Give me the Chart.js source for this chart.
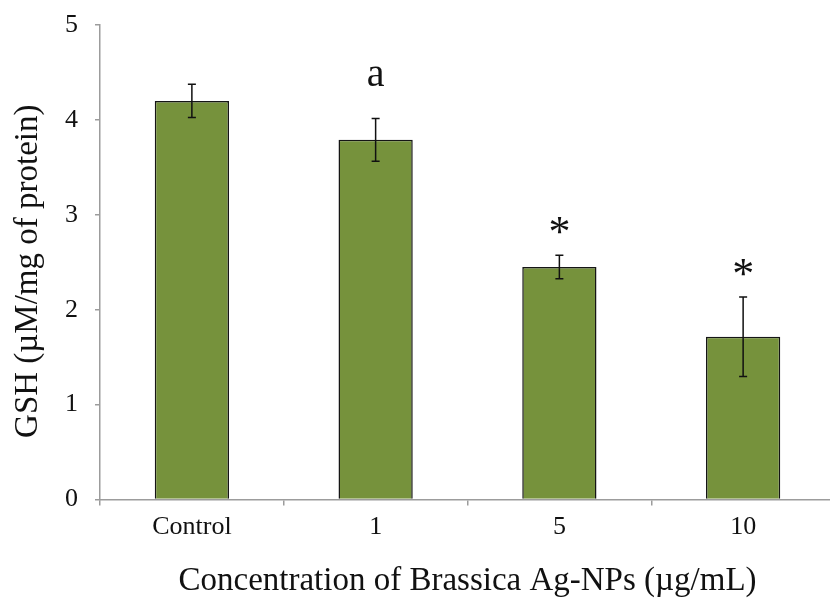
<!DOCTYPE html>
<html>
<head>
<meta charset="utf-8">
<script src="https://cdn.jsdelivr.net/npm/chart.js@4.4.1/dist/chart.umd.min.js"></script>
<style>
  html, body { margin: 0; padding: 0; background: #fff; overflow: hidden; width: 830px; height: 598px; }
  #wrap { position: absolute; left: 0; top: 0; width: 835px; height: 598px; }
</style>
</head>
<body>
<div id="wrap"><canvas id="gsh" width="835" height="598"></canvas></div>
<script>
// GSH level per treatment group (mean ± SD)
const categories = ['Control', '1', '5', '10'];
const gshMeans = [4.20, 3.79, 2.45, 1.715];
const gshErrors = [0.175, 0.225, 0.125, 0.42];
const significance = ['', 'a', '*', '*'];
const yTickValues = [0, 1, 2, 3, 4, 5];
const yTitle = 'GSH (µM/mg of protein)';
const xTitle = 'Concentration of Brassica Ag-NPs (µg/mL)';

const SERIF = '"Liberation Serif", "Times New Roman", serif';
const AXIS_GREY = '#9c9c9c';

// glyph-specific font and lift above the error-bar cap
const markStyle = {
  'a': { font: '40px ' + SERIF, lift: 32 },
  '*': { font: '44px ' + SERIF, lift: 9 }
};

const errorBarsAndMarks = {
  id: 'errorBarsAndMarks',
  afterDatasetsDraw(chart) {
    const { ctx, scales: { y } } = chart;
    const meta = chart.getDatasetMeta(0);
    ctx.save();
    ctx.strokeStyle = '#111';
    ctx.lineWidth = 1.5;
    meta.data.forEach((bar, i) => {
      const cx = bar.x;
      const hi = y.getPixelForValue(gshMeans[i] + gshErrors[i]);
      const lo = y.getPixelForValue(gshMeans[i] - gshErrors[i]);
      const cap = 4;
      ctx.beginPath();
      ctx.moveTo(cx, hi); ctx.lineTo(cx, lo);
      ctx.moveTo(cx - cap, hi); ctx.lineTo(cx + cap, hi);
      ctx.moveTo(cx - cap, lo); ctx.lineTo(cx + cap, lo);
      ctx.stroke();

      const m = significance[i];
      if (m) {
        const st = markStyle[m];
        ctx.font = st.font;
        ctx.fillStyle = '#111';
        ctx.textAlign = 'center';
        ctx.textBaseline = 'alphabetic';
        ctx.fillText(m, cx, hi - st.lift);
      }
    });
    ctx.restore();
  }
};

// vertical axis title, set slightly below the plot's mid-height
const yAxisTitle = {
  id: 'yAxisTitle',
  afterDraw(chart) {
    const { ctx, chartArea } = chart;
    ctx.save();
    ctx.translate(28, (chartArea.top + chartArea.bottom) / 2 + 9);
    ctx.rotate(-Math.PI / 2);
    ctx.font = '33px ' + SERIF;
    ctx.fillStyle = '#111';
    ctx.textAlign = 'center';
    ctx.textBaseline = 'middle';
    ctx.fillText(yTitle, 0, 0);
    ctx.restore();
  }
};

new Chart(document.getElementById('gsh'), {
  type: 'bar',
  data: {
    labels: categories,
    datasets: [{
      data: gshMeans,
      backgroundColor: '#76923C',
      borderColor: '#151515',
      borderWidth: 1.5,
      barPercentage: 0.404,
      categoryPercentage: 1.0
    }]
  },
  options: {
    responsive: false,
    animation: false,
    events: [],
    layout: { padding: { top: 25, right: 0, left: 0, bottom: 0 } },
    plugins: { legend: { display: false }, tooltip: { enabled: false } },
    scales: {
      x: {
        grid: { offset: true, drawOnChartArea: false, drawTicks: true, tickLength: 6, color: AXIS_GREY, lineWidth: 1.5 },
        border: { color: AXIS_GREY, width: 1.5 },
        ticks: { color: '#111', font: { family: SERIF, size: 26 }, padding: 6, maxRotation: 0 },
        title: {
          display: true,
          text: xTitle,
          color: '#111',
          font: { family: SERIF, size: 33, lineHeight: 1 },
          padding: { top: 0, bottom: 0 }
        },
        afterFit(scale) {
          scale.height = 98.5;
          scale.paddingLeft = 0;
          scale.paddingRight = 0;
        }
      },
      y: {
        min: 0,
        max: 5,
        afterBuildTicks(scale) { scale.ticks = yTickValues.map(v => ({ value: v })); },
        grid: { drawOnChartArea: false, drawTicks: true, tickLength: 5, color: AXIS_GREY, lineWidth: 1.5 },
        border: { color: AXIS_GREY, width: 1.5 },
        ticks: { color: '#111', font: { family: SERIF, size: 26 }, padding: 17 },
        afterFit(scale) {
          scale.width = 100;
          scale.paddingTop = 0;
          scale.paddingBottom = 0;
        }
      }
    }
  },
  plugins: [errorBarsAndMarks, yAxisTitle]
});
</script>
</body>
</html>
